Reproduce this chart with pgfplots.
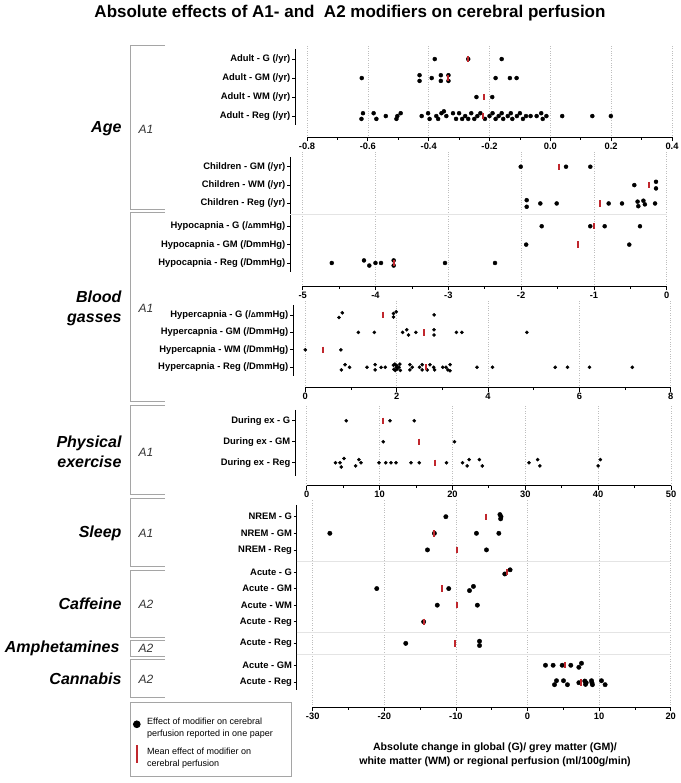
\documentclass[border=0pt]{standalone}
\usepackage{fontspec}
\setmainfont{Liberation Sans}
\usepackage{pgfplots}
\pgfplotsset{compat=1.18}
\definecolor{meanred}{RGB}{192,39,45}
\definecolor{gridgray}{RGB}{190,190,190}
\definecolor{sepgray}{RGB}{228,228,228}
\definecolor{brgray}{RGB}{165,165,165}

\pgfplotsset{
  frame/.style={scale only axis, anchor=south west, clip=false,
    axis x line*=bottom, axis y line=none, ymin=0, ymax=1, ytick=\empty,
    xmajorgrids, major grid style={gridgray, dotted, line width=0.6pt},
    x axis line style={line width=1pt, -},
    tick align=outside, major tick length=4pt, minor tick length=2.5pt,
    every tick/.style={black, line width=0.8pt}, minor x tick num=1,
    xticklabel style={font=\bfseries\fontsize{9.3}{10}\selectfont, inner sep=1.5pt}},
  data/.style={scale only axis, anchor=north west, clip=false,
    axis y line*=left, axis x line=none, xtick=\empty, y dir=reverse,
    y axis line style={line width=1pt, -},
    tick align=outside, major tick length=3pt,
    every tick/.style={black, line width=0.8pt},
    yticklabel style={font=\bfseries\fontsize{9.4}{10}\selectfont, inner sep=1.5pt}},
  dots/.style={only marks, mark=*, mark size=2pt, black, forget plot},
  means/.style={only marks, mark=|, mark size=3.2pt, color=meanred, forget plot,
    mark options={draw=meanred, line width=2pt}},
}

\begin{document}
\begin{tikzpicture}
\useasboundingbox (0,0) rectangle (680pt,783pt);

% title
\node[font=\bfseries\fontsize{17}{19}\selectfont] at (350pt,770pt)
  {Absolute effects of A1- and \ A2 modifiers on cerebral perfusion};

% ---------- Age, adults
\begin{axis}[frame, at={(307pt,645.5pt)}, width=365pt, height=92.5pt,
  xmin=-0.8, xmax=0.4, xtick={-0.8,-0.6,-0.4,-0.2,0,0.2,0.4},
  xticklabels={-0.8,-0.6,-0.4,-0.2,0.0,0.2,0.4}]
\end{axis}
\begin{axis}[data, at={(295pt,734pt)}, width=377pt, height=76pt,
  xmin=-0.8395, xmax=0.4, ymin=0.47, ymax=4.47, ytick={1,2,3,4},
  yticklabels={Adult - G (/yr),Adult - GM (/yr),Adult - WM (/yr),Adult - Reg (/yr)}]
\addplot[dots] coordinates {
  (-0.38,1) (-0.27,1) (-0.16,1)
  (-0.62,2) (-0.43,1.85) (-0.43,2.15) (-0.39,2) (-0.36,1.85) (-0.36,2.15)
  (-0.335,1.85) (-0.335,2.15) (-0.18,2) (-0.133,2) (-0.111,2)
  (-0.243,3) (-0.191,3)
  (-0.621,4.15) (-0.616,3.85) (-0.581,3.85) (-0.572,4.15) (-0.541,4)
  (-0.506,4.15) (-0.503,4) (-0.492,3.85) (-0.423,4) (-0.402,3.85)
  (-0.397,4.15) (-0.375,4) (-0.369,4.15) (-0.358,3.85) (-0.35,3.75)
  (-0.342,4) (-0.32,3.85) (-0.31,4.15) (-0.30,3.85) (-0.29,4.15)
  (-0.28,4) (-0.27,4.15) (-0.26,3.85) (-0.25,4.15) (-0.24,4)
  (-0.23,3.85) (-0.215,4.15) (-0.20,4) (-0.19,3.85) (-0.18,4.15)
  (-0.17,4) (-0.16,3.85) (-0.155,4.15) (-0.14,4) (-0.13,3.85)
  (-0.125,4.15) (-0.11,4) (-0.10,3.85) (-0.09,4.15) (-0.08,4)
  (-0.065,4) (-0.045,4) (-0.03,3.85) (-0.025,4.15) (-0.013,4)
  (0.039,4) (0.138,4) (0.199,4)
};
\addplot[means] coordinates {(-0.27,1) (-0.335,2) (-0.218,3) (-0.222,4)};
\end{axis}

% ---------- Age, children + hypocapnia
\begin{axis}[frame, at={(302.7pt,496.5pt)}, width=364pt, height=134.5pt,
  xmin=-5, xmax=0, xtick={-5,-4,-3,-2,-1,0},
  xticklabels={-5,-4,-3,-2,-1,0}]
\end{axis}
\begin{axis}[data, at={(290pt,626pt)}, width=376.7pt, height=115pt,
  xmin=-5.174, xmax=0, ymin=0.47, ymax=6.73,
  ytick={1,2,3,4.24,5.24,6.24},
  yticklabels={Children - GM (/yr),Children - WM (/yr),Children - Reg (/yr),
    Hypocapnia - G (/{\fontsize{7}{7}\selectfont Δ}mmHg),Hypocapnia - GM (/DmmHg),Hypocapnia - Reg (/DmmHg)}]
\draw[sepgray, line width=0.8pt] (axis cs:-5.174,3.62) -- (axis cs:0,3.62);
\addplot[dots] coordinates {
  (-2.005,1) (-1.383,1) (-1.049,1)
  (-0.445,2) (-0.147,1.82) (-0.147,2.18)
  (-1.923,2.82) (-1.923,3.18) (-1.736,3) (-1.511,3) (-0.797,3) (-0.614,3)
  (-0.40,2.9) (-0.39,3.15) (-0.32,2.85) (-0.30,3.05) (-0.16,3)
  (-1.717,4.24) (-1.05,4.24) (-0.852,4.24) (-0.367,4.24)
  (-1.93,5.24) (-0.514,5.24)
  (-4.60,6.24) (-4.158,6.1) (-4.085,6.38) (-4.0,6.24) (-3.924,6.24)
  (-3.75,6.1) (-3.75,6.38) (-3.045,6.24) (-2.358,6.24)
};
\addplot[means] coordinates {(-1.479,1) (-0.246,2) (-0.916,3)
  (-0.997,4.24) (-1.222,5.24) (-3.741,6.24)};
\end{axis}

% ---------- Blood gasses, hypercapnia
\begin{axis}[frame, at={(305.3pt,395.3pt)}, width=365.4pt, height=86.7pt,
  xmin=0, xmax=8, xtick={0,2,4,6,8}, xticklabels={0,2,4,6,8}]
\end{axis}
\begin{axis}[data, at={(293pt,478pt)}, width=377.7pt, height=71pt,
  xmin=-0.269, xmax=8, ymin=0.43, ymax=4.5, ytick={1,2,3,4},
  yticklabels={Hypercapnia - G (/{\fontsize{7}{7}\selectfont Δ}mmHg),Hypercapnia - GM (/DmmHg),
    Hypercapnia - WM (/DmmHg),Hypercapnia - Reg (/DmmHg)}]
\addplot[dots, mark size=1.6pt] coordinates {
  (0.738,1.15) (0.81,0.88) (1.93,1.12) (1.93,0.92) (1.99,0.82) (2.82,1)
  (1.16,2) (1.51,2) (2.13,2) (2.22,1.85) (2.26,2.15) (2.42,2)
  (2.82,1.85) (2.82,2.15) (3.31,2) (3.43,2) (4.85,2)
  (0.0,3) (0.78,3)
  (0.79,4.15) (0.87,3.85) (0.97,4) (1.35,4) (1.53,3.85) (1.53,4.15)
  (1.66,4) (1.75,4) (1.93,3.88) (1.94,4.12) (1.96,3.82) (1.97,4.18)
  (1.99,4) (2.0,3.9) (2.01,4.1) (2.05,4) (2.07,3.82) (2.08,4.18)
  (2.29,3.85) (2.29,4.15) (2.34,4) (2.50,4) (2.56,3.85) (2.56,4.15)
  (2.67,4.15) (2.73,3.85) (2.81,4) (2.83,4.15) (3.01,4) (3.08,4)
  (3.12,4.15) (3.17,3.85) (3.17,4.2) (3.76,4) (4.10,4) (5.47,4)
  (5.74,4) (6.22,4) (7.16,4)
};
\addplot[means] coordinates {(1.70,1) (2.60,2) (0.39,3) (2.65,4)};
\end{axis}

% ---------- Physical exercise
\begin{axis}[frame, at={(306.7pt,297.3pt)}, width=364.3pt, height=80.7pt,
  xmin=0, xmax=50, xtick={0,10,20,30,40,50}, xticklabels={0,10,20,30,40,50}]
\end{axis}
\begin{axis}[data, at={(295pt,373pt)}, width=376pt, height=66pt,
  xmin=-1.6, xmax=50, ymin=0.49, ymax=3.63, ytick={1,2,3},
  yticklabels={During ex - G,During ex - GM,During ex - Reg}]
\addplot[dots, mark size=1.6pt] coordinates {
  (5.44,1) (11.43,1) (14.76,1)
  (10.5,2) (20.3,2)
  (3.97,3) (4.57,3) (4.75,3.2) (5.12,2.8) (6.72,3.15) (7.17,2.85) (7.45,3)
  (9.92,3) (10.84,3) (11.56,3) (12.25,3) (14.31,3) (15.45,3) (19.2,3)
  (21.4,3) (22.03,3.15) (22.3,2.85) (23.7,2.85) (24.1,3.15) (30.5,3)
  (31.7,2.85) (32.0,3.15) (40.0,3.15) (40.3,2.85)
};
\addplot[means] coordinates {(10.54,1) (15.4,2) (17.55,3)};
\end{axis}

% ---------- Sleep, caffeine, amphetamines, cannabis
\begin{axis}[frame, at={(312.7pt,75.7pt)}, width=358pt, height=207.3pt,
  xmin=-30, xmax=20, xtick={-30,-20,-10,0,10,20},
  xticklabels={-30,-20,-10,0,10,20}]
\end{axis}
\begin{axis}[data, at={(296.7pt,278pt)}, width=374pt, height=185pt,
  xmin=-32.23, xmax=20, ymin=0.295, ymax=11.44,
  ytick={1,2,3,4.33,5.33,6.33,7.33,8.63,9.95,11},
  yticklabels={NREM - G,NREM - GM,NREM - Reg,Acute - G,Acute - GM,Acute - WM,
    Acute - Reg,Acute - Reg,Acute - GM,Acute - Reg},
  legend style={at={(-0.4457,-0.0649)}, anchor=north west, draw=brgray,
    line width=0.8pt, font=\fontsize{9}{12}\selectfont, row sep=10pt,
    inner xsep=3pt, inner ysep=12pt},
  legend cell align=left]
\draw[sepgray, line width=0.8pt] (axis cs:-32.23,3.67) -- (axis cs:20,3.67);
\draw[sepgray, line width=0.8pt] (axis cs:-32.23,7.96) -- (axis cs:20,7.96);
\draw[sepgray, line width=0.8pt] (axis cs:-32.23,9.29) -- (axis cs:20,9.29);
\addlegendimage{only marks, mark=*, mark size=3.4pt, black}
\addlegendentry{\hspace{5pt}\begin{tabular}{@{}p{139pt}@{}}Effect of modifier on cerebral\\perfusion reported in one paper\end{tabular}}
\addlegendimage{only marks, mark=|, mark size=9pt, color=meanred, mark options={draw=meanred, line width=2pt}}
\addlegendentry{\hspace{5pt}\begin{tabular}{@{}p{139pt}@{}}Mean effect of modifier on\\cerebral perfusion\end{tabular}}
\addplot[dots, mark size=2.2pt] coordinates {
  (-11.4,1) (-3.85,0.87) (-3.7,1) (-3.75,1.13)
  (-27.6,2) (-13.0,2) (-7.13,2) (-4.0,2)
  (-13.97,3) (-5.73,3)
  (-3.17,4.45) (-2.43,4.2)
  (-21.05,5.33) (-11.0,5.33) (-8.1,5.45) (-7.55,5.2)
  (-12.6,6.33) (-7.0,6.33)
  (-14.5,7.33)
  (-17.0,8.63) (-6.7,8.5) (-6.7,8.76)
  (2.51,9.95) (3.58,9.95) (4.84,9.95) (6.05,9.95) (7.17,10.07) (7.54,9.83)
  (3.77,11.12) (4.05,10.88) (5.03,10.88) (5.58,11.12) (7.17,11)
  (8.0,10.9) (8.1,11.1) (8.2,11) (8.94,10.88) (9.0,11) (9.07,11.12)
  (10.33,10.88) (10.84,11.12)
};
\addplot[means] coordinates {(-5.73,1) (-13.0,2) (-9.87,3) (-2.8,4.33)
  (-11.9,5.33) (-9.8,6.33) (-14.5,7.33) (-10.15,8.63) (5.3,9.95) (7.45,11)};
\end{axis}

% x label
\node[align=center, font=\bfseries\fontsize{10.6}{14}\selectfont] at (495pt,28pt)
  {Absolute change in global (G)/ grey matter (GM)/\\white matter (WM) or regional perfusion (ml/100g/min)};

% group brackets
\foreach \t/\b in {737/573,570/381,377/288,284/216,212/145,142/126,123/85}{
  \draw[brgray, line width=1pt] (165pt,\t pt) -- (130.7pt,\t pt) -- (130.7pt,\b pt) -- (165pt,\b pt);
}
\tikzset{grp/.style={anchor=east, align=right, font=\bfseries\itshape\fontsize{16}{20}\selectfont},
  alab/.style={anchor=west, font=\itshape\fontsize{12}{14}\selectfont, text=black!80}}
\node[grp] at (125pt,654pt) {Age};
\node[grp] at (125pt,475pt) {Blood\\gasses};
\node[grp] at (125pt,331pt) {Physical\\exercise};
\node[grp] at (125pt,250pt) {Sleep};
\node[grp] at (125pt,179pt) {Caffeine};
\node[grp] at (123pt,135pt) {Amphetamines};
\node[grp] at (125pt,104pt) {Cannabis};
\node[alab] at (135pt,654pt) {A1};
\node[alab] at (135pt,475pt) {A1};
\node[alab] at (135pt,331pt) {A1};
\node[alab] at (135pt,250pt) {A1};
\node[alab] at (135pt,179pt) {A2};
\node[alab] at (135pt,135pt) {A2};
\node[alab] at (135pt,104pt) {A2};
\end{tikzpicture}
\end{document}
